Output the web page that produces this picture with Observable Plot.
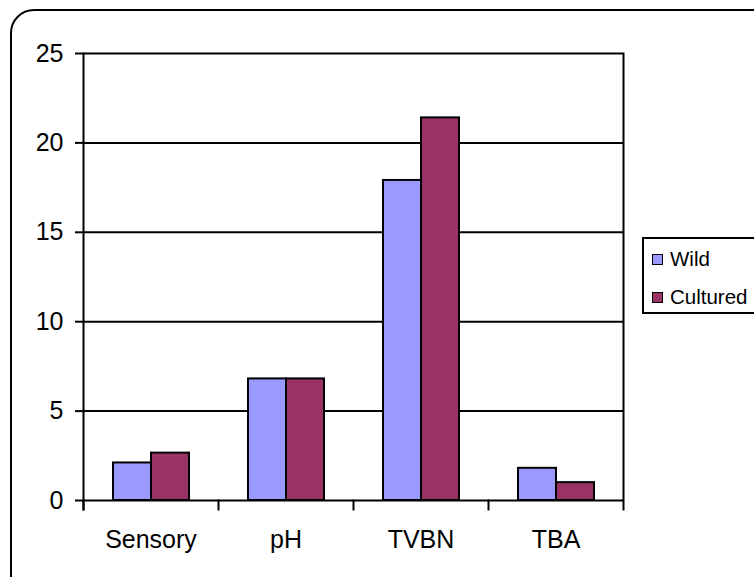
<!DOCTYPE html>
<html>
<head>
<meta charset="utf-8">
<script src="https://cdn.jsdelivr.net/npm/d3@7"></script>
<script src="https://cdn.jsdelivr.net/npm/@observablehq/plot@0.6"></script>
<style>
  html, body { margin: 0; padding: 0; background: #fff; }
  #wrap { position: relative; width: 754px; height: 577px; overflow: hidden; font-family: "Liberation Sans", Arial, sans-serif; }
  #border { position: absolute; left: 10px; top: 9px; width: 780px; height: 600px; border: 2px solid #000; border-radius: 24px; box-sizing: border-box; }
  #chart { position: absolute; left: 0; top: 0; }
  #legend { position: absolute; left: 642px; top: 237px; width: 120px; height: 77px; border: 2px solid #000; box-sizing: border-box; background: #fff; font-size: 20.5px; }
  .item { position: absolute; left: 8px; display: flex; align-items: center; white-space: nowrap; }
  .sw { width: 11px; height: 11px; border: 1.5px solid #000; margin-right: 7px; box-sizing: border-box; }
</style>
</head>
<body>
<div id="wrap">
  <div id="border"></div>
  <div id="chart"></div>
  <div id="legend"></div>
</div>
<script>
const categories = ["Sensory", "pH", "TVBN", "TBA"];
const series = ["Wild", "Cultured"];
const wildValues = [2.1, 6.8, 17.9, 1.8];
const culturedValues = [2.65, 6.8, 21.4, 1.0];
const yTicks = [0, 5, 10, 15, 20, 25];
const seriesColors = ["#9999FF", "#993366"];

const data = categories.flatMap((c, i) => [
  {category: c, series: series[0], value: wildValues[i]},
  {category: c, series: series[1], value: culturedValues[i]}
]);

const W = 754, H = 577;
const mL = 82, mR = 131, mT = 53, mB = 77;
const plotH = H - mT - mB;

const chart = Plot.plot({
  width: W,
  height: H,
  marginLeft: mL,
  marginRight: mR,
  marginTop: mT,
  marginBottom: mB,
  style: {fontFamily: "'Liberation Sans', Arial, sans-serif", fontSize: "25px", color: "#000", background: "transparent", overflow: "visible"},
  fx: {domain: categories, padding: 0, label: null},
  x: {domain: series, paddingInner: 0, paddingOuter: 0.75, axis: null},
  y: {domain: [0, 25], label: null},
  color: {domain: series, range: seriesColors},
  marks: [
    Plot.ruleY(yTicks, {stroke: "#000", strokeWidth: 2}),
    Plot.barY(data, {fx: "category", x: "series", y: "value", fill: "series", stroke: "#000", strokeWidth: 2}),
    Plot.frame({anchor: "left", facetAnchor: "left", stroke: "#000", strokeWidth: 2, insetBottom: -9}),
    Plot.frame({anchor: "left", stroke: "#000", strokeWidth: 2, insetTop: plotH, insetBottom: -9}),
    Plot.frame({anchor: "right", facetAnchor: "right", stroke: "#000", strokeWidth: 2, insetBottom: -9}),
    Plot.axisY({ticks: yTicks, tickSize: 8, tickPadding: 12, strokeWidth: 2, fontSize: 25, label: null, tickFormat: d => String(d)}),
    Plot.axisFx({anchor: "bottom", tickSize: 0, tickPadding: 30, fontSize: 25, label: null})
  ]
});
document.getElementById("chart").appendChild(chart);

const legend = document.getElementById("legend");
series.forEach((s, i) => {
  const item = document.createElement("div");
  item.className = "item";
  item.style.top = (i === 0 ? 8 : 46) + "px";
  const sw = document.createElement("span");
  sw.className = "sw";
  sw.style.background = seriesColors[i];
  const t = document.createElement("span");
  t.textContent = s;
  item.appendChild(sw);
  item.appendChild(t);
  legend.appendChild(item);
});
</script>
</body>
</html>
